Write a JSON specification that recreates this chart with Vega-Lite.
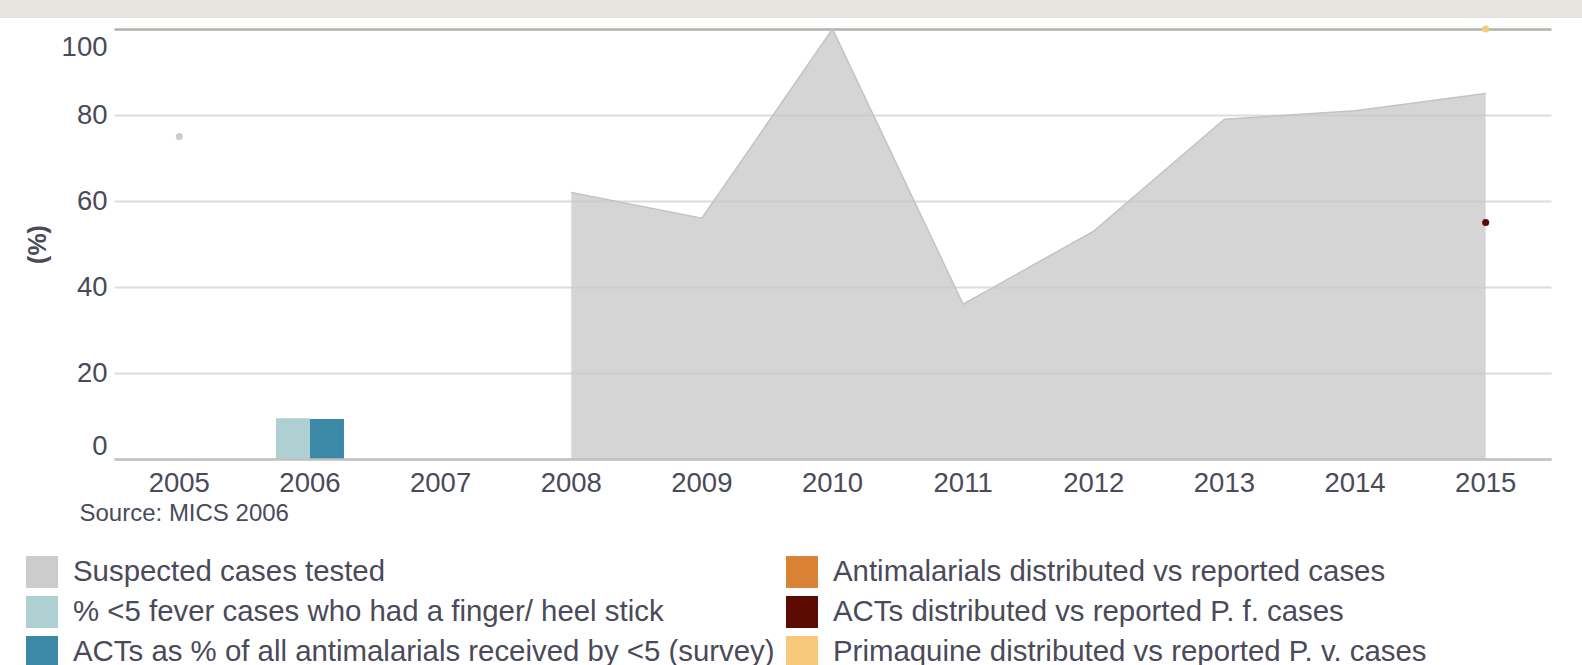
{
  "$schema": "https://vega.github.io/schema/vega-lite/v6.json",
  "padding": 0,
  "width": 1437,
  "height": 430,
  "config": {"font": "Liberation Sans", "view": {"stroke": null}},
  "data": {
    "values": [
      {"year": 2005, "series": "Suspected cases tested", "value": 75},
      {"year": 2008, "series": "Suspected cases tested", "value": 62},
      {"year": 2009, "series": "Suspected cases tested", "value": 56},
      {"year": 2010, "series": "Suspected cases tested", "value": 100},
      {"year": 2011, "series": "Suspected cases tested", "value": 36},
      {"year": 2012, "series": "Suspected cases tested", "value": 53},
      {"year": 2013, "series": "Suspected cases tested", "value": 79},
      {"year": 2014, "series": "Suspected cases tested", "value": 81},
      {"year": 2015, "series": "Suspected cases tested", "value": 85},
      {"year": 2006, "series": "% <5 fever cases who had a finger/ heel stick", "value": 9.5},
      {"year": 2006, "series": "ACTs as % of all antimalarials received by <5 (survey)", "value": 9.3},
      {"year": 2015, "series": "ACTs distributed vs reported P. f. cases", "value": 55},
      {"year": 2015, "series": "Primaquine distributed vs reported P. v. cases", "value": 100}
    ]
  },
  "layer": [
    {
      "transform": [{"filter": "datum.series === 'Suspected cases tested' && datum.year >= 2008"}],
      "mark": {"type": "area", "color": "#c9c9c9", "opacity": 0.78},
      "encoding": {
        "x": {
          "field": "year", "type": "ordinal", "bandPosition": 0.5,
          "scale": {"type": "band", "domain": [2005, 2006, 2007, 2008, 2009, 2010, 2011, 2012, 2013, 2014, 2015], "paddingInner": 0, "paddingOuter": 0},
          "axis": {
            "title": "Source: MICS 2006", "domain": true, "domainColor": "#c0c0c0", "domainWidth": 2.5,
            "ticks": false, "grid": false, "labelAngle": 0, "labelFontSize": 27.5, "labelColor": "#4a4a5a",
            "labelPadding": 10, "titleX": -35, "titleY": 54, "titleAlign": "left", "titleBaseline": "middle",
            "titleFontSize": 24, "titleFontWeight": "normal", "titleColor": "#4a4a5a", "zindex": 1
          }
        },
        "y": {
          "field": "value", "type": "quantitative",
          "scale": {"domain": [0, 100], "nice": false},
          "axis": {
            "title": "(%)", "values": [0, 20, 40, 60, 80, 100], "domain": false, "ticks": false, "grid": true,
            "gridColor": {"condition": {"test": "datum.value === 100", "value": "#b2b2ac"}, "value": "#dcdcdc"},
            "gridWidth": {"condition": {"test": "datum.value === 100", "value": 2.5}, "value": 2},
            "labelFontSize": 27.5, "labelColor": "#4a4a5a", "labelPadding": 7,
            "labelOffset": {"condition": [{"test": "datum.value === 100", "value": 18}, {"test": "datum.value === 0", "value": -13}], "value": 0},
            "titleFontSize": 25, "titleFontWeight": "bold", "titleColor": "#4a4a5a", "titlePadding": 11
          }
        }
      }
    },
    {
      "transform": [{"filter": "datum.series === 'Suspected cases tested' && datum.year >= 2008"}],
      "mark": {"type": "line", "color": "#c3c3c3", "strokeWidth": 1.5},
      "encoding": {
        "x": {"field": "year", "type": "ordinal", "bandPosition": 0.5},
        "y": {"field": "value", "type": "quantitative"}
      }
    },
    {
      "transform": [{"filter": "datum.series === '% <5 fever cases who had a finger/ heel stick' || datum.series === 'ACTs as % of all antimalarials received by <5 (survey)'"}],
      "mark": {"type": "bar", "strokeWidth": 0, "strokeOpacity": 0},
      "encoding": {
        "x": {"field": "year", "type": "ordinal"},
        "xOffset": {"field": "series", "type": "nominal", "scale": {"domain": ["% <5 fever cases who had a finger/ heel stick", "ACTs as % of all antimalarials received by <5 (survey)"], "paddingInner": 0, "paddingOuter": 0.92}},
        "y": {"field": "value", "type": "quantitative"},
        "color": {
          "field": "series", "type": "nominal",
          "scale": {
            "domain": ["Suspected cases tested", "% <5 fever cases who had a finger/ heel stick", "ACTs as % of all antimalarials received by <5 (survey)", "Antimalarials distributed vs reported cases", "ACTs distributed vs reported P. f. cases", "Primaquine distributed vs reported P. v. cases"],
            "range": ["#cccccc", "#afd0d3", "#3c88a7", "#d98236", "#5c0b00", "#f6c97b"]
          },
          "legend": {
            "orient": "none", "legendX": -114, "legendY": 501, "padding": 26, "columns": 2, "title": null,
            "symbolType": "square", "symbolSize": 1024, "symbolStrokeWidth": 0, "symbolOpacity": 1,
            "labelFontSize": 29.4, "labelColor": "#4a4a5a", "labelOffset": 15, "labelLimit": 1000,
            "rowPadding": 8, "columnPadding": 11
          }
        },
        "stroke": {
          "field": "value", "type": "quantitative",
          "scale": {"range": ["#e5e4df", "#e5e4df"]},
          "legend": {
            "orient": "none", "legendX": -114, "legendY": -29, "padding": 0, "title": null,
            "direction": "horizontal", "gradientLength": 1582, "gradientThickness": 18,
            "gradientStrokeWidth": 0, "labelOpacity": 0, "labelExpr": "''", "tickCount": 2
          }
        }
      }
    },
    {
      "transform": [{"filter": "(datum.series === 'Suspected cases tested' && datum.year === 2005) || datum.series === 'ACTs distributed vs reported P. f. cases' || datum.series === 'Primaquine distributed vs reported P. v. cases'"}],
      "mark": {"type": "point", "filled": true, "size": 50, "opacity": 1},
      "encoding": {
        "x": {"field": "year", "type": "ordinal"},
        "y": {"field": "value", "type": "quantitative"},
        "color": {"field": "series", "type": "nominal"}
      }
    }
  ]
}
